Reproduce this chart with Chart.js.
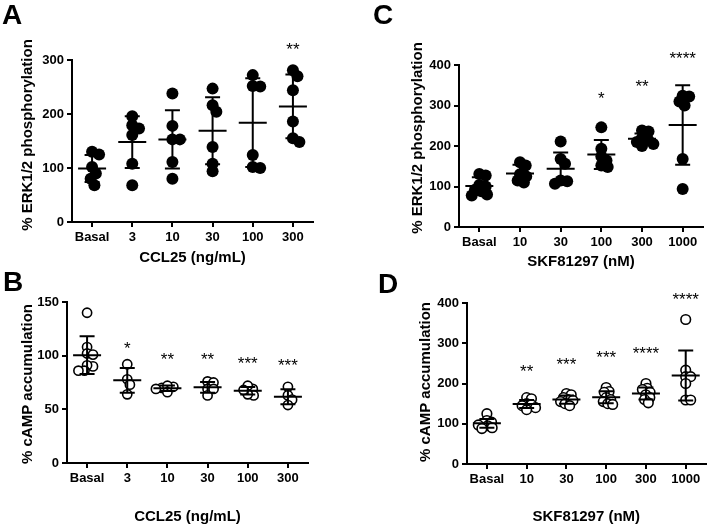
<!DOCTYPE html>
<html>
<head>
<meta charset="utf-8">
<script src="https://cdn.jsdelivr.net/npm/chart.js@4"></script>
<style>
  body { margin: 0; background: #fff; width: 712px; height: 527px; position: relative; overflow: hidden; font-family: "Liberation Sans", Arial, sans-serif; }
  canvas { position: absolute; left: 0; top: 0; }
  .letter { position: absolute; font-weight: bold; font-size: 28px; line-height: 1; color: #000; }
</style>
</head>
<body>
<canvas id="chartA" width="712" height="527"></canvas>
<canvas id="chartB" width="712" height="527"></canvas>
<canvas id="chartC" width="712" height="527"></canvas>
<canvas id="chartD" width="712" height="527"></canvas>
<div class="letter" style="left:2px;top:1px">A</div>
<div class="letter" style="left:373px;top:1px">C</div>
<div class="letter" style="left:3px;top:268px">B</div>
<div class="letter" style="left:378px;top:270px">D</div>
<script>
// categories
const ccl25Doses = ["Basal", "3", "10", "30", "100", "300"];
const skfDoses = ["Basal", "10", "30", "100", "300", "1000"];

// A: % ERK1/2 phosphorylation, CCL25
const erkCcl25 = [
  [125, 130, 102, 90, 80, 68],
  [179, 196, 173, 161, 108, 68],
  [238, 178, 153, 153, 111, 80],
  [247, 204, 216, 139, 108, 94],
  [252, 251, 272, 124, 100, 102],
  [281, 270, 244, 186, 148, 155]
];
const erkCcl25Mean = [99, 148, 153, 169, 184, 214];
const erkCcl25Sd = [25, 48, 54, 62, 82, 59];
const erkCcl25Stars = ["", "", "", "", "", "**"];
const erkCcl25StarAt = [0, 0, 0, 0, 0, 328];

// B: % cAMP accumulation, CCL25
const campCcl25 = [
  [140, 108, 102, 101, 90, 91, 86, 86],
  [92, 78, 73, 64],
  [71, 70, 72, 66, 69],
  [76, 75, 69, 63, 69],
  [69, 72, 63, 64, 68],
  [71, 63, 59, 54]
];
const campCcl25Mean = [100.5, 77, 69.6, 70.5, 67.4, 61.8];
const campCcl25Sd = [17.5, 11.5, 2.5, 5, 3.5, 7];
const campCcl25Stars = ["", "*", "**", "**", "***", "***"];
const campCcl25StarAt = [0, 111, 101, 101, 97, 95];

// C: % ERK1/2 phosphorylation, SKF81297
const erkSkf = [
  [131, 127, 104, 100, 92, 88, 80, 78],
  [160, 152, 130, 125, 115, 110],
  [211, 168, 156, 115, 107, 113],
  [246, 193, 174, 164, 152, 148],
  [238, 236, 220, 215, 210, 205, 200],
  [322, 324, 300, 310, 168, 94]
];
const erkSkfMean = [101, 132, 144, 179, 218, 252];
const erkSkfSd = [22, 22, 40, 36, 13, 98];
const erkSkfStars = ["", "", "", "*", "**", "****"];
const erkSkfStarAt = [0, 0, 0, 328, 358, 428];

// D: % cAMP accumulation, SKF81297
const campSkf = [
  [125, 108, 104, 100, 97, 95, 90, 88],
  [165, 162, 150, 147, 145, 140, 135],
  [175, 172, 165, 160, 158, 155, 150, 145],
  [190, 180, 178, 165, 160, 155, 150, 148],
  [200, 188, 185, 178, 172, 165, 160, 152],
  [359, 233, 217, 217, 200, 159, 159]
];
const campSkfMean = [101, 149, 160, 166, 175, 220];
const campSkfSd = [11, 10, 10, 15, 15, 62];
const campSkfStars = ["", "**", "***", "***", "****", "****"];
const campSkfStarAt = [0, 241, 258, 275, 285, 421];

const fontFamily = '"Liberation Sans", Arial, sans-serif';
Chart.defaults.font.family = fontFamily;
Chart.defaults.color = "#000";

// spread points of one group sideways so they don't sit on top of each other
function swarm(vals, pxY, pxX, gap) {
  const order = vals.map((v, i) => i).sort((p, q) => vals[q] - vals[p]);
  const placed = [];
  const out = new Array(vals.length);
  order.forEach((i) => {
    const y = vals[i] * pxY;
    const cands = [0];
    placed.forEach((p) => {
      const dy = Math.abs(p.y - y);
      if (dy < gap) {
        const dx = Math.sqrt(gap * gap - dy * dy);
        cands.push(p.x + dx, p.x - dx);
      }
    });
    cands.sort((a, b) => Math.abs(a) - Math.abs(b));
    const x = cands.find((c) => placed.every((p) => Math.hypot(p.x - c, p.y - y) >= gap - 0.01));
    placed.push({ x, y });
    out[i] = x / pxX;
  });
  return out;
}

// mean +/- SD bars, significance stars and the y title
const summaryPlugin = {
  id: "summary",
  afterDatasetsDraw(chart, args, opts) {
    const { ctx } = chart;
    const x = chart.scales.x;
    const y = chart.scales.y;
    ctx.save();
    ctx.strokeStyle = "#000";
    ctx.lineWidth = 2;
    opts.means.forEach((m, i) => {
      const cx = x.getPixelForValue(i);
      const yTop = y.getPixelForValue(m + opts.sds[i]);
      const yBot = y.getPixelForValue(m - opts.sds[i]);
      const yMean = y.getPixelForValue(m);
      ctx.beginPath();
      ctx.moveTo(cx, yTop); ctx.lineTo(cx, yBot);
      ctx.moveTo(cx - 7.5, yTop); ctx.lineTo(cx + 7.5, yTop);
      ctx.moveTo(cx - 7.5, yBot); ctx.lineTo(cx + 7.5, yBot);
      ctx.moveTo(cx - 14, yMean); ctx.lineTo(cx + 14, yMean);
      ctx.stroke();
    });
    ctx.fillStyle = "#000";
    ctx.font = "17px " + fontFamily;
    ctx.textAlign = "center";
    ctx.textBaseline = "alphabetic";
    opts.stars.forEach((s, i) => {
      if (!s) return;
      ctx.fillText(s, x.getPixelForValue(i), y.getPixelForValue(opts.starAt[i]) + 10);
    });
    // y axis title, placed like the original rather than centred on the axis
    ctx.translate(opts.yTitleX, opts.yTitleY);
    ctx.rotate(-Math.PI / 2);
    ctx.font = "bold 15px " + fontFamily;
    ctx.textBaseline = "middle";
    ctx.fillText(opts.yTitle, 0, 0);
    ctx.restore();
  }
};

function makePanel(id, p) {
  const points = [];
  p.groups.forEach((vals, i) => {
    const offs = swarm(vals, p.pxY, 40.2, p.gap);
    vals.forEach((v, k) => points.push({ x: i + offs[k], y: v }));
  });
  const axisLine = { display: true, color: "#000", width: 2 };
  const gridTicks = { drawOnChartArea: false, drawTicks: true, tickLength: 5, color: "#000", lineWidth: 2 };
  return new Chart(document.getElementById(id), {
    type: "scatter",
    data: {
      datasets: [{
        data: points,
        pointRadius: p.radius,
        pointHoverRadius: p.radius,
        pointBackgroundColor: p.fill,
        pointBorderColor: "#000",
        pointBorderWidth: p.border,
        clip: false
      }]
    },
    options: {
      responsive: false,
      animation: false,
      events: [],
      layout: { padding: p.padding },
      plugins: {
        legend: { display: false },
        tooltip: { enabled: false },
        summary: {
          means: p.means, sds: p.sds, stars: p.stars, starAt: p.starAt,
          yTitle: p.yTitle, yTitleX: p.yTitleX, yTitleY: p.yTitleY
        }
      },
      scales: {
        x: {
          type: "linear",
          min: -0.5,
          max: 5.5,
          afterBuildTicks: (ax) => { ax.ticks = p.cats.map((c, i) => ({ value: i })); },
          afterFit: (s) => { s.height = p.xHeight; },
          ticks: { callback: (v) => p.cats[v], font: { size: 13, weight: "bold" }, padding: 3, maxRotation: 0, autoSkip: false },
          grid: gridTicks,
          border: axisLine,
          title: { display: true, text: p.xTitle, font: { size: 15, weight: "bold" }, padding: { top: 0, bottom: 0 } }
        },
        y: {
          min: 0,
          max: p.yMax,
          afterFit: (s) => { s.width = p.yWidth; },
          ticks: { stepSize: p.yStep, font: { size: 13, weight: "bold" }, padding: 3 },
          grid: gridTicks,
          border: axisLine
        }
      }
    },
    plugins: [summaryPlugin]
  });
}

makePanel("chartA", {
  groups: erkCcl25, means: erkCcl25Mean, sds: erkCcl25Sd, stars: erkCcl25Stars, starAt: erkCcl25StarAt,
  cats: ccl25Doses, xTitle: "CCL25 (ng/mL)", yTitle: "% ERK1/2 phosphorylation",
  yMax: 300, yStep: 100, pxY: 162 / 300, gap: 7.5, radius: 6, fill: "#000", border: 0,
  padding: { left: 0, top: 60, right: 399, bottom: 260 }, yWidth: 72, xHeight: 45, yTitleX: 28, yTitleY: 135
});
makePanel("chartC", {
  groups: erkSkf, means: erkSkfMean, sds: erkSkfSd, stars: erkSkfStars, starAt: erkSkfStarAt,
  cats: skfDoses, xTitle: "SKF81297 (nM)", yTitle: "% ERK1/2 phosphorylation",
  yMax: 400, yStep: 100, pxY: 162 / 400, gap: 6.5, radius: 6, fill: "#000", border: 0,
  padding: { left: 400, top: 65, right: 9, bottom: 256 }, yWidth: 59, xHeight: 44, yTitleX: 418, yTitleY: 138
});
makePanel("chartB", {
  groups: campCcl25, means: campCcl25Mean, sds: campCcl25Sd, stars: campCcl25Stars, starAt: campCcl25StarAt,
  cats: ccl25Doses, xTitle: "CCL25 (ng/mL)", yTitle: "% cAMP accumulation",
  yMax: 150, yStep: 50, pxY: 161.6 / 150, gap: 6, radius: 4.6, fill: "#fff", border: 1.6,
  padding: { left: 0, top: 302, right: 404, bottom: 1 }, yWidth: 67, xHeight: 63, yTitleX: 28, yTitleY: 384
});
makePanel("chartD", {
  groups: campSkf, means: campSkfMean, sds: campSkfSd, stars: campSkfStars, starAt: campSkfStarAt,
  cats: skfDoses, xTitle: "SKF81297 (nM)", yTitle: "% cAMP accumulation",
  yMax: 400, yStep: 100, pxY: 161.6 / 400, gap: 5, radius: 4.8, fill: "#fff", border: 1.6,
  padding: { left: 400, top: 303, right: 4, bottom: 1 }, yWidth: 67, xHeight: 62, yTitleX: 426, yTitleY: 382
});
</script>
</body>
</html>
